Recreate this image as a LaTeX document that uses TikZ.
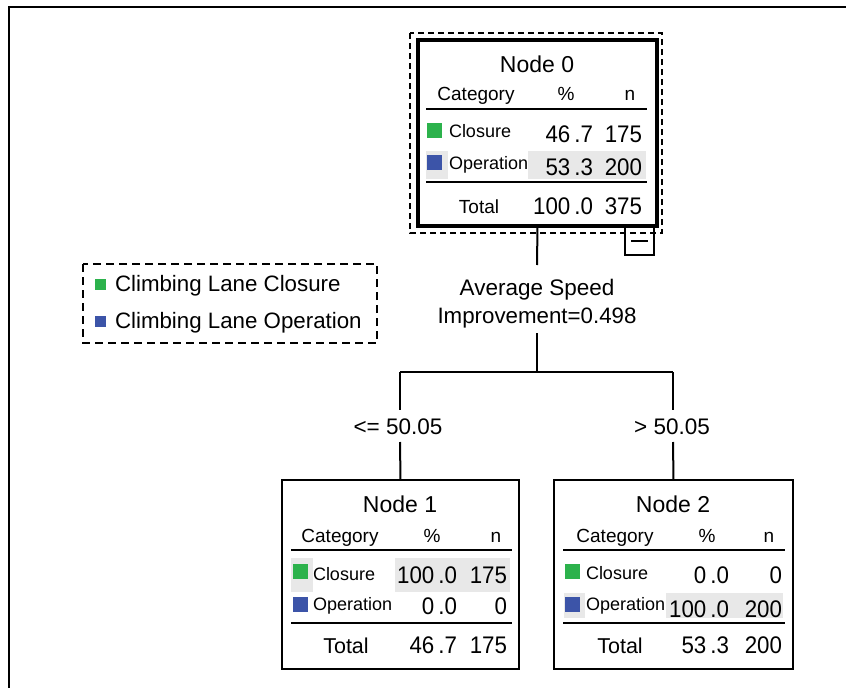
\documentclass[tikz,border=0pt]{standalone}
\usepackage{fontspec}
\setmainfont{Liberation Sans}
\newfontfamily\valfont[FakeStretch=0.93]{Liberation Sans}
\newcommand\fs[1]{\fontsize{#1}{#1}\selectfont}
% decimal number set with the wider gap before the point
\newcommand\dec[2]{#1\kern4pt.#2}
\definecolor{closuregreen}{RGB}{44,178,76}
\definecolor{operblue}{RGB}{60,84,168}
\definecolor{cellgray}{RGB}{232,232,232}
\begin{document}
\begin{tikzpicture}[x=1pt,y=-1pt]
\tikzset{
  txt/.style={inner sep=0pt, outer sep=0pt},
  frameline/.style={line width=1.5pt},
  link/.style={line width=2pt},
  rule/.style={line width=2.5pt},
  leafbox/.style={draw, line width=2pt, inner sep=0pt, outer sep=0pt,
                  minimum width=237pt, minimum height=189pt},
  rootbox/.style={draw, line width=4pt, inner sep=0pt, outer sep=0pt,
                  minimum width=239pt, minimum height=186pt},
  sq/.style={inner sep=0pt, outer sep=0pt, minimum size=15pt, anchor=north west},
  lab/.style={txt, anchor=base west, font=\fs{18}},
  head/.style={txt, anchor=base, font=\fs{19}},
  val/.style={txt, anchor=base east, font=\valfont\fs{24}},
  title/.style={txt, anchor=base, font=\fs{23}},
  cut/.style={txt, anchor=base, font=\fs{22.5}},
}
\useasboundingbox (0,0) rectangle (846,688);

% outer frame
\draw[frameline] (846,7) -- (9,7) -- (9,688);

% ---------------- legend ----------------
\draw[line width=2.5pt, dash pattern=on 8pt off 5pt] (83,264) rectangle (377,343);
\node[sq, fill=closuregreen, minimum size=11pt] (lgG) at (95,279) {};
\node[txt, anchor=base west, font=\fs{22.3}] (lgGt) at (115,291) {Climbing Lane Closure};
\node[sq, fill=operblue, minimum size=11pt] (lgB) at (95,316) {};
\node[txt, anchor=base west, font=\fs{22.3}] (lgBt) at (115,328) {Climbing Lane Operation};

% ---------------- Node 0 ----------------
\fill[cellgray] (426,151) rectangle (448,179);
\fill[cellgray] (528,151) rectangle (646,179);
\node[rootbox] (n0) at (537.5,133) {};
\draw[line width=2.5pt, dash pattern=on 6pt off 4pt] (410,33) rectangle (662,233);
\draw[line width=1.5pt] (625,226) rectangle (654,255);
\draw[line width=2pt] (631,241) -- (648,241);

\node[title] (n0t) at (537,72) {Node 0};
\node[head] (n0c) at (476,100) {Category};
\node[head] (n0p) at (566,100) {\%};
\node[head] (n0n) at (630,100) {n};
\draw[rule] (426,109) -- (647,109);
\node[sq, fill=closuregreen] (n0g) at (427,123) {};
\node[lab] (n0cl) at (449,137) {Closure};
\node[val] (n0cp) at (593,142) {\dec{46}{7}};
\node[val] (n0cn) at (642,142) {175};
\node[sq, fill=operblue] (n0b) at (427,155) {};
\node[lab] (n0ol) at (449,169) {Operation};
\node[val] (n0op) at (593,175) {\dec{53}{3}};
\node[val] (n0on) at (642,175) {200};
\draw[rule] (426,182) -- (647,182);
\node[head] (n0tl) at (479,213) {Total};
\node[val] (n0tp) at (593,214) {\dec{100}{0}};
\node[val] (n0tn) at (642,214) {375};

% ---------------- split ----------------
\node[cut] (sp1) at (537,295) {Average Speed};
\node[txt, anchor=base, font=\fs{22.3}] (sp2) at (537,323) {Improvement=0.498};
\node[cut] (le) at (398,434) {<= 50.05};
\node[cut] (gt) at (672,434) {> 50.05};

\coordinate (a1) at (537,265);
\coordinate (a2) at (537,333);
\coordinate (fork) at (537,372);
\coordinate (lc) at (400,372);
\coordinate (rc) at (673,372);
\coordinate (lt) at (400,410);
\coordinate (rt) at (673,410);
\coordinate (lb) at (400,442);
\coordinate (rb) at (673,442);

% ---------------- Node 1 ----------------
\fill[cellgray] (291,558) rectangle (313,592);
\fill[cellgray] (395,558) rectangle (510,592);
\node[leafbox] (n1) at (400.5,574.5) {};
\node[title] (n1t) at (400,512) {Node 1};
\node[head] (n1c) at (340,542) {Category};
\node[head] (n1p) at (432,542) {\%};
\node[head] (n1n) at (496,542) {n};
\draw[rule] (291,550) -- (512,550);
\node[sq, fill=closuregreen] (n1g) at (293,564) {};
\node[lab] (n1cl) at (313,580) {Closure};
\node[val] (n1cp) at (457,583) {\dec{100}{0}};
\node[val] (n1cn) at (507,583) {175};
\node[sq, fill=operblue] (n1b) at (293,597) {};
\node[lab] (n1ol) at (313,610) {Operation};
\node[val] (n1op) at (457,614) {\dec{0}{0}};
\node[val] (n1on) at (507,614) {0};
\draw[rule] (291,623) -- (512,623);
\node[txt, anchor=base, font=\fs{21.5}] (n1tl) at (346,653) {Total};
\node[val] (n1tp) at (457,653) {\dec{46}{7}};
\node[val] (n1tn) at (507,653) {175};

% ---------------- Node 2 ----------------
\fill[cellgray] (564,593) rectangle (585,618);
\fill[cellgray] (666,593) rectangle (783,618);
\node[leafbox, minimum width=239pt] (n2) at (673.5,574.5) {};
\node[title] (n2t) at (673,512) {Node 2};
\node[head] (n2c) at (615,542) {Category};
\node[head] (n2p) at (707,542) {\%};
\node[head] (n2n) at (769,542) {n};
\draw[rule] (563,550) -- (785,550);
\node[sq, fill=closuregreen] (n2g) at (565,564) {};
\node[lab] (n2cl) at (586,579) {Closure};
\node[val] (n2cp) at (729,583) {\dec{0}{0}};
\node[val] (n2cn) at (782,583) {0};
\node[sq, fill=operblue] (n2b) at (565,597) {};
\node[lab] (n2ol) at (586,610) {Operation};
\node[val] (n2op) at (729,617) {\dec{100}{0}};
\node[val] (n2on) at (782,617) {200};
\draw[rule] (563,623) -- (785,623);
\node[txt, anchor=base, font=\fs{21.5}] (n2tl) at (620,653) {Total};
\node[val] (n2tp) at (729,653) {\dec{53}{3}};
\node[val] (n2tn) at (782,653) {200};

% ---------------- connectors ----------------
\draw[link] (n0.south) -- (a1);
\draw[link] (a2) -- (fork);
\draw[link] (lc) -- (rc);
\draw[link] (lc) -- (lt);
\draw[link] (rc) -- (rt);
\draw[link] (lb) -- (n1.north);
\draw[link] (rb) -- (n2.north);
\end{tikzpicture}
\end{document}
